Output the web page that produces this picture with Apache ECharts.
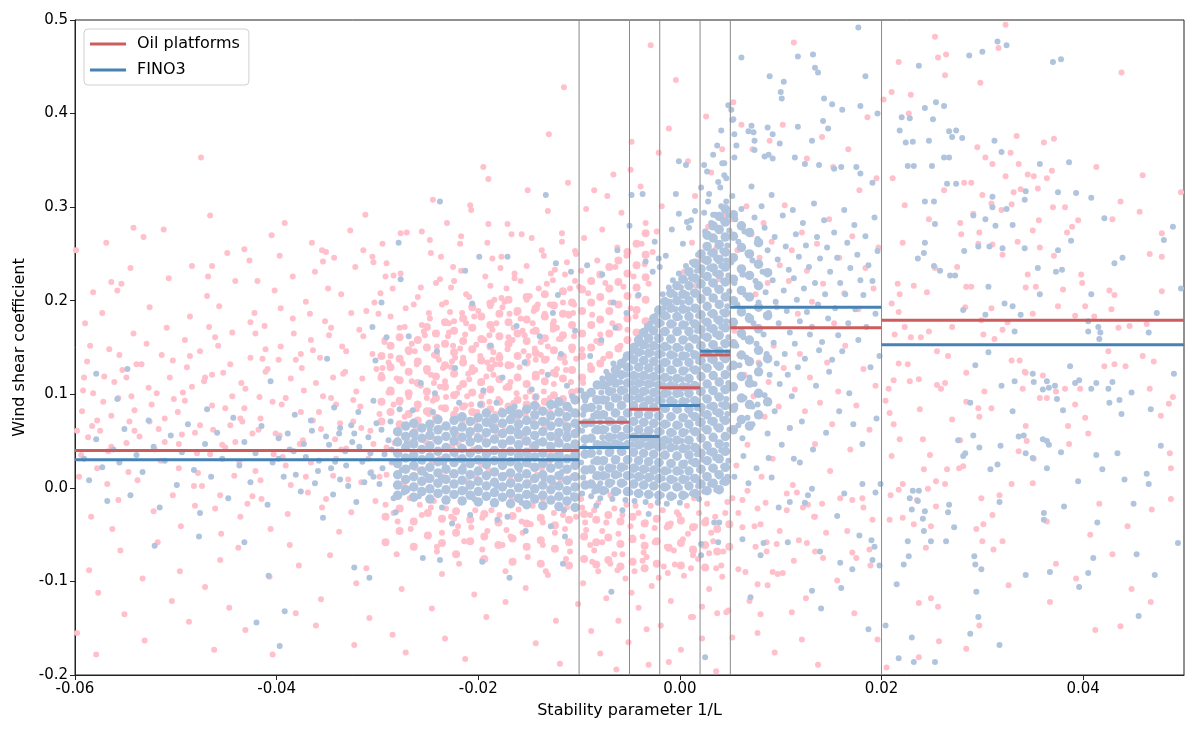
<!DOCTYPE html>
<html>
<head>
<meta charset="utf-8">
<script src="https://cdn.jsdelivr.net/npm/echarts@6/dist/echarts.min.js"></script>
<style>
html, body { margin: 0; padding: 0; background: #fff; }
#chart { width: 1200px; height: 735px; }
</style>
</head>
<body>
<div id="chart"></div>
<script>
// stability bins (1/L) and mean shear coefficient per bin
const binEdges = [-0.06, -0.01, -0.005, -0.002, 0.002, 0.005, 0.02, 0.05];
const oilMeans = [0.040, 0.070, 0.084, 0.107, 0.142, 0.171, 0.179];
const finoMeans = [0.030, 0.043, 0.055, 0.088, 0.146, 0.193, 0.153];
const xTicks = [-0.06, -0.04, -0.02, 0, 0.02, 0.04];
const yTicks = [-0.2, -0.1, 0, 0.1, 0.2, 0.3, 0.4, 0.5];

// Oil platforms samples [1/L, shear]
const oilLeft = [
[-.0593,.082],[-.0588,.135],[-.0596,.012],[-.0584,-.031],[-.0590,.176],[-.0587,.054],[-.0598,-.155],[-.0582,.101],[-.0594,.035],[-.0586,-.088],[-.0591,.118],[-.0583,.066],
[-.0572,.092],[-.0566,.148],[-.0578,.021],[-.0563,-.044],[-.0569,.262],[-.0575,.061],[-.0561,.113],[-.0577,-.112],[-.0568,.004],[-.0573,.187],[-.0564,.077],[-.0579,-.178],[-.0567,.039],
[-.0553,.126],[-.0546,.071],[-.0557,-.013],[-.0542,.165],[-.0549,.048],[-.0555,-.067],[-.0544,.098],[-.0558,.211],[-.0547,.017],[-.0551,-.135],[-.0541,.083],[-.0556,.142],
[-.0532,.268],[-.0527,.107],[-.0536,.055],[-.0522,-.025],[-.0529,.154],[-.0538,.008],[-.0524,.089],[-.0533,-.097],[-.0526,.193],[-.0539,.132],[-.0521,.041],[-.0531,-.163],
[-.0512,.276],[-.0506,.118],[-.0517,.063],[-.0503,-.008],[-.0509,.171],[-.0515,.029],[-.0502,.095],[-.0518,-.058],[-.0507,.224],[-.0514,.142],[-.0504,-.121],[-.0511,.074],
[-.0493,.102],[-.0486,.183],[-.0497,.047],[-.0482,.002],[-.0489,.129],[-.0495,-.041],[-.0484,.237],[-.0498,.081],[-.0487,-.143],[-.0491,.158],[-.0481,.059],[-.0496,-.089],
[-.0475,.353],[-.0466,.291],[-.0472,.114],[-.0463,.062],[-.0478,.016],[-.0469,.205],[-.0461,-.022],[-.0476,.146],[-.0464,.088],[-.0471,-.106],[-.0479,.037],[-.0467,.172],[-.0462,-.173],
[-.0453,.123],[-.0446,.067],[-.0457,.194],[-.0442,.013],[-.0449,.251],[-.0455,-.049],[-.0444,.098],[-.0458,.152],[-.0447,-.128],[-.0451,.043],[-.0441,.221],[-.0456,-.077],
[-.0432,.085],[-.0426,.139],[-.0437,.028],[-.0422,.187],[-.0429,-.017],[-.0435,.112],[-.0424,.058],[-.0438,-.064],[-.0427,.243],[-.0431,-.152],[-.0421,.165],[-.0436,.074],
[-.0412,.173],[-.0405,.270],[-.0417,.097],[-.0403,.036],[-.0409,.127],[-.0415,-.012],[-.0402,.211],[-.0418,.062],[-.0407,-.095],[-.0411,.148],[-.0404,-.178],[-.0416,.008],
[-.0392,.283],[-.0386,.117],[-.0397,.056],[-.0383,.165],[-.0389,-.028],[-.0395,.089],[-.0384,.226],[-.0398,.137],[-.0387,-.061],[-.0391,.024],[-.0381,-.134],[-.0396,.192],
[-.0373,.104],[-.0366,.158],[-.0377,.047],[-.0362,.231],[-.0369,-.005],[-.0375,.128],[-.0364,.072],[-.0378,-.083],[-.0367,.186],[-.0371,.012],[-.0361,-.147],[-.0376,.143],[-.0365,.262],
[-.0352,.178],[-.0346,.096],[-.0357,.139],[-.0342,.052],[-.0349,.213],[-.0355,-.021],[-.0344,.118],[-.0358,.081],[-.0347,-.072],[-.0351,.252],[-.0341,.031],[-.0356,-.119],[-.0348,.163],
[-.0332,.124],[-.0326,.187],[-.0337,.069],[-.0322,.236],[-.0329,.009],[-.0335,.151],[-.0324,.094],[-.0338,-.047],[-.0327,.275],[-.0331,.042],[-.0321,-.102],[-.0336,.207],[-.0323,-.168],
[-.0312,.292],[-.0305,.143],[-.0317,.087],[-.0303,.198],[-.0309,.031],[-.0315,.117],[-.0302,-.014],[-.0318,.169],[-.0307,.061],[-.0311,-.086],[-.0304,.241],[-.0316,.006],[-.0308,-.139],
[-.0293,.156],[-.0286,.102],[-.0297,.208],[-.0283,.048],[-.0289,.134],[-.0295,.261],[-.0284,-.027],[-.0298,.079],[-.0287,.183],[-.0291,.014],[-.0281,-.071],[-.0296,.121],[-.0285,-.157],[-.0292,.226],
[-.0273,.172],[-.0266,.114],[-.0277,.229],[-.0262,.063],[-.0269,.145],[-.0275,.005],[-.0264,.196],[-.0278,.091],[-.0267,-.044],[-.0271,.273],[-.0261,.132],[-.0276,-.108],[-.0265,.037],[-.0272,-.176],
[-.0245,.308],[-.0253,.163],[-.0247,.121],[-.0257,.214],[-.0242,.072],[-.0249,.187],[-.0255,.028],[-.0244,.142],[-.0258,-.018],[-.0247,.251],[-.0251,.096],[-.0241,-.063],[-.0256,.174],[-.0246,-.129],[-.0252,.049],
[-.0232,.198],[-.0226,.135],[-.0237,.247],[-.0222,.084],[-.0229,.166],[-.0235,.012],[-.0224,.221],[-.0238,.108],[-.0227,-.031],[-.0231,.283],[-.0221,.057],[-.0236,-.092],[-.0225,.152],[-.0233,-.161],[-.0228,.188],
[-.0212,.176],[-.0206,.129],[-.0217,.232],[-.0203,.071],[-.0209,.204],[-.0215,.018],[-.0202,.153],[-.0218,.261],[-.0207,-.042],[-.0211,.098],[-.0204,-.114],[-.0216,.187],[-.0205,.041],[-.0213,-.183],[-.0208,.302],
[-.0195,.343],[-.0190,.330],[-.0197,.184],[-.0186,.137],[-.0193,.226],[-.0183,.079],[-.0189,.163],[-.0195,.026],[-.0184,.201],[-.0198,.112],[-.0187,-.024],[-.0191,.262],[-.0181,.058],[-.0196,-.077],[-.0185,.145],[-.0192,-.138],[-.0188,.194],
[-.0172,.213],[-.0166,.158],[-.0177,.247],[-.0162,.101],[-.0169,.186],[-.0175,.039],[-.0164,.229],[-.0178,.132],[-.0167,-.013],[-.0171,.282],[-.0161,.074],[-.0176,-.061],[-.0165,.171],[-.0173,-.122],[-.0168,.009],[-.0174,.199],
[-.0152,.237],[-.0146,.176],[-.0157,.271],[-.0142,.118],[-.0149,.205],[-.0155,.052],[-.0144,.149],[-.0158,.221],[-.0147,-.008],[-.0151,.318],[-.0141,.087],[-.0156,-.048],[-.0145,.189],[-.0153,-.107],[-.0148,.024],[-.0154,.163],[-.0143,-.166],
[-.0130,.378],[-.0132,.218],[-.0126,.169],[-.0137,.254],[-.0122,.127],[-.0129,.196],[-.0135,.063],[-.0124,.233],[-.0138,.142],[-.0127,.004],[-.0131,.296],[-.0121,.094],[-.0136,-.037],[-.0125,.178],[-.0133,-.089],[-.0128,.036],[-.0134,.207],[-.0123,-.142],
[-.0115,.428],[-.0112,.241],[-.0106,.187],[-.0117,.272],[-.0103,.138],[-.0109,.213],[-.0115,.071],[-.0104,.253],[-.0118,.159],[-.0107,.012],[-.0111,.326],[-.0102,.104],[-.0116,-.029],[-.0105,.196],[-.0113,-.076],[-.0108,.043],[-.0114,.228],[-.0101,-.124],[-.0119,-.188],
[-.0545,.235],[-.0542,.278],[-.0564,.220],[-.0554,.218],[-.0582,.209],[-.0599,.254],[-.0464,.237],[-.0468,.226],[-.0419,.221],[-.0432,.255],[-.0397,.248],[-.0355,.254],[-.0354,.242],[-.0343,.246],[-.0314,.254],[-.0305,.247],[-.0291,.240],[-.0284,.227],
[-.0256,.274],[-.0207,.297],[-.0190,.282],[-.0167,.271],[-.0248,.265],[-.0277,.272],[-.0117,.263],[-.0225,.236],[-.0238,.223],[-.0227,.214],[-.0217,.269],[-.0186,.245],[-.0178,.235],[-.0147,.267],[-.0135,.248],[-.0126,.222],[-.0103,.250],[-.0100,.215],
[-.0248,.083],[-.0244,.112],[-.0241,.151],[-.0238,.064],[-.0235,.128],[-.0232,.097],[-.0229,.176],[-.0226,.045],[-.0223,.139],[-.0219,.107],[-.0216,.071],[-.0213,.164],[-.0210,.122],[-.0207,.089],[-.0204,.183],[-.0201,.056],[-.0198,.141],[-.0195,.102],
[-.0192,.119],[-.0189,.074],[-.0186,.169],[-.0183,.132],[-.0180,.095],[-.0177,.203],[-.0174,.061],[-.0171,.148],[-.0168,.113],[-.0165,.084],[-.0162,.187],[-.0159,.129],[-.0156,.168],[-.0153,.097],[-.0150,.141],[-.0147,.072],[-.0144,.118],[-.0141,.196],
[-.0138,.156],[-.0135,.103],[-.0132,.138],[-.0129,.082],[-.0126,.175],[-.0123,.121],[-.0120,.159],[-.0117,.092],[-.0114,.134],[-.0111,.186],[-.0108,.113],[-.0105,.162],[-.0102,.078],[-.0246,.026],[-.0233,.011],[-.0221,.032],[-.0211,.007],[-.0197,.025],
[-.0185,.038],[-.0173,.014],[-.0161,.029],[-.0149,.006],[-.0137,.021],[-.0124,.034],[-.0112,.009],[-.0247,-.021],[-.0236,-.048],[-.0224,-.033],[-.0214,-.057],[-.0203,-.024],[-.0191,-.046],[-.0179,-.029],[-.0168,-.052],[-.0157,-.036],[-.0146,-.019],[-.0136,-.061],
[-.0125,-.027],[-.0114,-.044],[-.0103,-.031],[-.0241,-.068],[-.0219,-.081],[-.0196,-.066],[-.0173,-.089],[-.0151,-.074],[-.0131,-.093],[-.0109,-.068]
];
const oilBand = [
[-.0298,.012],[-.0297,.071],[-.0295,.128],[-.0299,.186],[-.0292,-.018],[-.0291,.043],[-.0289,.102],[-.0293,.158],[-.0286,.027],[-.0284,.089],[-.0287,.141],[-.0285,.213],
[-.0280,-.036],[-.0279,.058],[-.0281,.117],[-.0278,.171],[-.0274,.004],[-.0273,.076],[-.0275,.133],[-.0272,.192],[-.0268,-.011],[-.0267,.049],[-.0269,.097],[-.0266,.154],
[-.0262,.021],[-.0261,.084],[-.0263,.146],[-.0260,.204],[-.0256,-.029],[-.0255,.063],[-.0257,.109],[-.0254,.167],[-.0250,.008],[-.0249,.079],[-.0251,.124],[-.0248,.181],
[-.0244,-.014],[-.0243,.052],[-.0245,.093],[-.0242,.219],[-.0238,.031],[-.0237,.086],[-.0239,.137],[-.0236,.196],[-.0232,-.022],[-.0231,.067],[-.0233,.114],[-.0230,.162],
[-.0226,.015],[-.0225,.074],[-.0227,.129],[-.0224,.178],[-.0220,-.041],[-.0219,.046],[-.0221,.101],[-.0218,.149],[-.0214,.024],[-.0213,.088],[-.0215,.139],[-.0212,.207],
[-.0208,-.008],[-.0207,.061],[-.0209,.116],[-.0206,.172],[-.0202,.011],[-.0201,.081],[-.0203,.126],[-.0200,.189],[-.0196,-.032],[-.0195,.054],[-.0197,.098],[-.0194,.158],
[-.0190,.019],[-.0189,.092],[-.0191,.134],[-.0188,.216],[-.0184,-.016],[-.0183,.066],[-.0185,.121],[-.0182,.176],[-.0178,.029],[-.0177,.083],[-.0179,.142],[-.0176,.193],
[-.0172,-.045],[-.0171,.049],[-.0173,.107],[-.0170,.161],[-.0166,.006],[-.0165,.091],[-.0167,.131],[-.0164,.224],[-.0160,-.023],[-.0159,.059],[-.0161,.119],[-.0158,.181],
[-.0154,.033],[-.0153,.078],[-.0155,.146],[-.0152,.201],[-.0148,-.039],[-.0147,.044],[-.0149,.103],[-.0146,.167],[-.0142,.014],[-.0141,.086],[-.0143,.137],[-.0140,.213],
[-.0136,-.012],[-.0135,.068],[-.0137,.124],[-.0134,.186],[-.0130,.026],[-.0129,.096],[-.0131,.151],[-.0128,.229],[-.0124,-.048],[-.0123,.053],[-.0125,.111],[-.0122,.171],
[-.0118,.009],[-.0117,.081],[-.0119,.139],[-.0116,.198],[-.0112,-.021],[-.0111,.062],[-.0113,.126],[-.0110,.184],[-.0106,.035],[-.0105,.094],[-.0107,.147],[-.0104,.221],
[-.0497,.021],[-.0491,.093],[-.0486,.141],[-.0481,-.019],[-.0476,.067],[-.0471,.118],[-.0466,.036],[-.0461,.161],[-.0456,-.008],[-.0451,.085],[-.0446,.132],[-.0441,.049],
[-.0436,-.031],[-.0431,.106],[-.0426,.177],[-.0421,.018],[-.0416,.074],[-.0411,.124],[-.0406,-.044],[-.0401,.058],[-.0396,.151],[-.0391,.096],[-.0386,.003],[-.0381,.137],
[-.0376,.081],[-.0371,.199],[-.0366,.027],[-.0361,.112],[-.0356,.063],[-.0351,-.012],[-.0346,.171],[-.0341,.089],[-.0336,.041],[-.0331,.146],[-.0326,-.026],[-.0321,.103],
[-.0316,.064],[-.0311,.189],[-.0306,.017],[-.0301,.127],[-.0494,.057],[-.0484,.108],[-.0474,.002],[-.0464,.121],[-.0454,.046],[-.0444,.166],[-.0434,.071],[-.0424,-.009],
[-.0414,.138],[-.0404,.092],[-.0394,.033],[-.0384,.181],[-.0374,.051],[-.0364,.147],[-.0354,.098],[-.0344,.013],[-.0334,.122],[-.0324,.071],[-.0314,.162],[-.0304,.047],
[-.0598,.061],[-.0592,.104],[-.0585,.152],[-.0578,.072],[-.0571,.119],[-.0564,.044],[-.0557,.096],[-.0549,.118],[-.0541,.061],[-.0534,.132],[-.0526,.071],[-.0519,.101],
[-.0511,.049],[-.0503,.136]
];
const oilCentre = [
[-.0029,.473],[-.0004,.436],[-.0011,.384],[-.0048,.370],[-.0049,.340],[-.0066,.335],[-.0072,.312],[-.0021,.358],[-.0085,.318],[-.0093,.298],[-.0039,.322],[.0008,.349],[.0031,.337],[.0042,.362],[.0026,.397],[-.0058,.294],[-.0077,.276],[-.0018,.301],[-.0095,.267],[-.0062,.257],[-.0034,.283],[.0015,.312],
[-.0098,.232],[-.0091,.208],[-.0087,.185],[-.0082,.243],[-.0079,.164],[-.0074,.219],[-.0069,.198],[-.0064,.236],[-.0061,.172],[-.0056,.215],[-.0053,.248],[-.0049,.192],[-.0046,.226],[-.0042,.205],[-.0038,.261],[-.0035,.239],[-.0031,.218],[-.0027,.252],[-.0023,.274],
[-.0097,.148],[-.0089,.131],[-.0083,.157],[-.0076,.138],[-.0071,.121],[-.0067,.176],[-.0059,.152],[-.0052,.169],[-.0044,.183],[-.0096,.112],[-.0084,.096],
[.0004,.231],[.0012,.262],[.0021,.244],[.0028,.279],[.0036,.256],[.0044,.291],[.0048,.238],[-.0008,.207],[.0016,.216],[.0039,.223],
[-.0098,-.012],[-.0094,-.037],[-.0089,-.061],[-.0085,-.024],[-.0081,-.089],[-.0077,-.046],[-.0073,-.118],[-.0069,-.008],[-.0065,-.071],[-.0061,-.142],[-.0057,-.029],[-.0054,-.097],[-.0051,-.165],[-.0047,-.053],[-.0044,-.019],[-.0041,-.128],[-.0037,-.078],
[-.0034,-.037],[-.0031,-.189],[-.0028,-.105],[-.0025,-.058],[-.0022,-.015],[-.0019,-.147],[-.0016,-.084],[-.0013,-.042],[-.0009,-.121],[-.0006,-.067],[-.0003,-.026],[.0001,-.173],[.0004,-.094],[.0008,-.049],[.0011,-.138],[.0014,-.011],[.0018,-.076],
[.0022,-.161],[.0026,-.034],[.0029,-.108],[.0033,-.057],[.0036,-.196],[.0041,-.083],[.0045,-.027],[.0048,-.131],[-.0096,-.102],[-.0088,-.153],[-.0079,-.177],[-.0063,-.194],[-.0048,-.112],[-.0033,-.151],[-.0011,-.186],
[-.0087,-.079],[-.0062,-.088],[-.0036,-.069],[-.0012,-.091],[.0013,-.072],[.0036,-.086],[.0014,-.067],[.0029,-.070],[.0042,-.095],[.0022,-.127],[.0037,-.134],[.0046,-.133],[.0013,-.138],
[-.0097,-.021],[-.0093,-.045],[-.0089,-.029],[-.0085,-.067],[-.0081,-.016],[-.0077,-.058],[-.0073,-.037],[-.0069,-.081],[-.0065,-.022],[-.0061,-.049],[-.0057,-.071],[-.0053,-.018],
[-.0049,-.041],[-.0045,-.089],[-.0041,-.027],[-.0037,-.052],[-.0033,-.074],[-.0029,-.019],[-.0025,-.043],[-.0021,-.096],[-.0017,-.024],[-.0013,-.063],[-.0009,-.038],[-.0005,-.082],
[-.0001,-.029],[.0003,-.055],[.0007,-.019],[.0011,-.086],[.0015,-.041],[.0019,-.027],[.0023,-.062],[.0027,-.017],[.0031,-.048],[.0035,-.031],[.0043,-.068],[.0047,-.015]
];
// thick pink patches, one row per 1/L column: [1/L, [shear values]]
const oilDenseCols = [
[-.0296,[.071,.092,.118,.141]],[-.0287,[.081,.104,.129,.152]],[-.0278,[.068,.093,.115,.138,.161]],[-.0269,[.079,.101,.124,.147]],
[-.0260,[.072,.089,.112,.135,.158]],[-.0251,[.082,.103,.127,.150,.172]],[-.0242,[.075,.096,.119,.142,.165]],[-.0233,[.085,.108,.131,.154,.177]],
[-.0224,[.078,.099,.122,.145,.168]],[-.0215,[.087,.111,.134,.157,.181]],[-.0206,[.081,.102,.125,.148,.171,.193]],[-.0197,[.089,.113,.136,.159,.183]],
[-.0188,[.084,.105,.128,.151,.174,.197]],[-.0179,[.092,.116,.139,.162,.186]],[-.0170,[.087,.108,.131,.154,.177,.201]],[-.0161,[.094,.118,.141,.165,.189]],
[-.0152,[.089,.111,.134,.157,.180,.204]],[-.0143,[.097,.121,.144,.168,.192]],[-.0134,[.092,.114,.137,.160,.183,.207]],[-.0125,[.099,.123,.147,.171,.195]],
[-.0116,[.095,.117,.140,.163,.186,.210]],[-.0107,[.102,.126,.150,.174,.198]],
[-.0292,[-.031,-.058]],[-.0278,[-.022,-.046]],[-.0264,[-.036,-.063]],[-.0250,[-.027,-.051]],[-.0236,[-.033,-.059]],[-.0222,[-.025,-.048,-.071]],
[-.0208,[-.034,-.057]],[-.0194,[-.028,-.052,-.076]],[-.0180,[-.037,-.061]],[-.0166,[-.030,-.054,-.079]],[-.0152,[-.038,-.063]],[-.0138,[-.032,-.056,-.081]],
[-.0124,[-.040,-.065]],[-.0110,[-.034,-.058,-.083]],
[-.0097,[.118,.141,.165,.189,.212]],[-.0088,[.127,.150,.174,.198,.221]],[-.0079,[.133,.156,.180,.204,.228]],[-.0070,[.142,.165,.189,.213,.236]],
[-.0061,[.149,.172,.196,.220,.243]],[-.0052,[.158,.181,.205,.229,.252]],[-.0043,[.166,.190,.214,.238,.261]],[-.0034,[.178,.201,.225,.249,.272]],
[-.0095,[-.028,-.052,-.076]],[-.0083,[-.034,-.058,-.082]],[-.0071,[-.029,-.053,-.077]],[-.0059,[-.036,-.060,-.084]],[-.0047,[-.031,-.055,-.079]],
[-.0035,[-.038,-.062,-.086]],[-.0023,[-.033,-.057,-.081]],[-.0011,[-.040,-.064]],[.0001,[-.035,-.059,-.083]],[.0013,[-.042,-.066]],
[.0025,[-.037,-.061,-.085]],[.0037,[-.044,-.068]],[.0049,[-.039,-.063]]
];
const oilRight = [
[.0053,.412],[.0061,.388],[.0072,.362],[.0089,.371],[.0102,.388],[.0113,.476],[.0126,.352],[.0141,.375],[.0152,.343],[.0167,.362],[.0178,.318],[.0186,.396],[.0195,.331],
[.0052,.287],[.0057,.254],[.0063,.228],[.0066,.301],[.0071,.271],[.0075,.207],[.0079,.246],[.0083,.283],[.0087,.219],[.0091,.263],[.0096,.193],[.0099,.238],[.0104,.302],[.0108,.221],[.0111,.254],[.0117,.186],
[.0121,.273],[.0126,.232],[.0131,.199],[.0136,.261],[.0142,.218],[.0148,.287],[.0153,.176],[.0158,.246],[.0163,.208],[.0171,.269],[.0177,.191],[.0184,.235],[.0192,.213],[.0197,.257],
[.0054,.168],[.0059,.142],[.0064,.121],[.0068,.157],[.0073,.098],[.0078,.134],[.0084,.076],[.0088,.113],[.0093,.152],[.0098,.087],[.0103,.128],[.0109,.064],[.0114,.105],[.0119,.143],
[.0124,.082],[.0129,.118],[.0134,.047],[.0139,.091],[.0146,.134],[.0151,.068],[.0157,.103],[.0164,.152],[.0169,.041],[.0175,.088],[.0182,.127],[.0188,.062],[.0194,.109],
[.0056,.024],[.0062,-.013],[.0067,.046],[.0074,-.041],[.0081,.012],[.0086,-.068],[.0092,.031],[.0097,-.092],[.0106,-.024],[.0112,.003],[.0118,-.056],[.0125,-.118],[.0133,-.031],[.0142,-.075],
[.0149,.018],[.0156,-.099],[.0166,-.046],[.0173,-.134],[.0181,-.011],[.0189,-.083],[.0196,-.162],[.0058,-.087],[.0069,-.121],[.0077,-.155],[.0094,-.176],[.0137,-.189],
[.0052,-.160],[.0080,-.135],[.0121,-.162],[.0111,-.133],[.0087,-.104],[.0077,-.103],[.0092,-.090],[.0102,-.091],[.0065,-.090],[.0075,-.063],[.0086,-.058],[.0096,-.060],[.0126,-.059],[.0134,-.068],
[.0113,-.078],[.0171,-.069],[.0175,-.075],[.0188,-.066],[.0191,-.034],[.0182,-.021],[.0171,-.013],[.0159,-.011],[.0145,-.048],[.0134,-.031],[.0127,-.018],[.0141,-.017],[.0122,-.021],[.0099,-.046],
[.0080,-.039],[.0062,-.042],[.0058,-.027],[.0077,-.022],[.0106,-.006],[.0116,-.005],[.0085,-.016],[.0067,-.003],[.0052,-.011]
];
const oilFar = [
[.0323,.495],[.0253,.482],[.0217,.455],[.0264,.463],[.0256,.460],[.0263,.441],[.0298,.433],[.0316,.470],[.0438,.444],[.0229,.420],[.0210,.423],[.0202,.415],[.0227,.400],[.0334,.376],
[.0361,.369],[.0371,.373],[.0413,.343],[.0459,.334],[.0497,.316],[.0437,.306],[.0456,.295],[.0478,.272],[.0466,.250],[.0478,.247],[.0382,.300],[.0370,.300],[.0364,.331],[.0369,.339],
[.0351,.333],[.0336,.346],[.0328,.358],[.0345,.335],[.0310,.346],[.0303,.353],[.0295,.364],[.0323,.333],[.0331,.316],[.0329,.303],[.0338,.319],[.0355,.320],[.0356,.286],[.0384,.273],
[.0389,.279],[.0395,.286],[.0429,.287],[.0309,.304],[.0319,.297],[.0291,.293],[.0300,.313],[.0289,.326],[.0282,.326],[.0278,.283],[.0297,.273],[.0296,.261],[.0310,.260],[.0320,.249],
[.0335,.263],[.0350,.275],[.0357,.257],[.0345,.228],[.0343,.214],[.0353,.215],[.0371,.248],[.0398,.228],[.0399,.219],[.0402,.194],[.0380,.212],[.0426,.211],[.0431,.206],[.0428,.191],
[.0435,.171],[.0446,.173],[.0463,.175],[.0478,.210],[.0392,.184],[.0411,.183],[.0350,.186],[.0309,.192],[.0299,.179],[.0320,.169],[.0325,.177],[.0312,.159],[.0284,.215],[.0289,.215],
[.0275,.236],[.0253,.235],[.0245,.209],[.0232,.216],[.0216,.218],[.0218,.207],[.0210,.197],[.0217,.188],[.0213,.164],[.0223,.172],[.0229,.161],[.0239,.161],[.0247,.167],[.0270,.172],
[.0283,.193],[.0301,.164],[.0375,.194],[.0211,.331],[.0223,.302],[.0247,.287],[.0262,.318],[.0279,.271],[.0221,.262],
[.0329,.136],[.0337,.136],[.0343,.123],[.0360,.120],[.0357,.096],[.0364,.096],[.0373,.103],[.0382,.106],[.0392,.089],[.0397,.106],[.0402,.075],[.0405,.058],[.0386,.047],[.0385,.066],
[.0421,.130],[.0425,.146],[.0431,.132],[.0442,.130],[.0459,.141],[.0470,.135],[.0466,.106],[.0477,.077],[.0485,.090],[.0489,.097],[.0486,.037],[.0487,.021],[.0487,-.012],[.0468,-.023],
[.0444,-.041],[.0407,-.050],[.0416,-.017],[.0393,-.097],[.0373,-.081],[.0437,-.148],[.0351,.031],[.0364,-.036],[.0350,.005],[.0329,.004],[.0336,.039],[.0344,.050],[.0343,.066],[.0340,.106],
[.0342,.124],[.0317,-.008],[.0310,-.029],[.0300,-.057],[.0299,-.011],[.0294,-.044],[.0301,-.039],[.0311,-.066],[.0320,-.057],[.0281,.023],[.0296,.085],[.0297,.076],[.0309,.085],[.0302,.103],
[.0284,.123],[.0284,.092],[.0270,.073],[.0278,.051],[.0265,.020],[.0263,.004],[.0254,.007],[.0254,-.020],[.0249,-.041],[.0246,-.001],[.0244,-.064],[.0237,-.123],[.0249,-.118],[.0256,-.127],
[.0257,-.164],[.0237,-.181],[.0205,-.192],[.0208,-.034],[.0221,-.032],[.0232,-.039],[.0235,-.013],[.0242,.020],[.0248,.035],[.0241,.052],[.0238,.084],[.0237,.116],[.0228,.114],[.0217,.133],
[.0218,.052],[.0221,.004],[.0217,-.002],[.0209,-.008],[.0210,.034],[.0212,.068],[.0208,.080],[.0204,.093],[.0207,.106],[.0212,.115],[.0226,.132],[.0255,.146],[.0266,.141],[.0263,.112],
[.0255,.110],[.0259,.106],[.0277,.021],[.0367,-.122],[.0429,-.071],[.0326,-.104],[.0297,-.147],[.0412,-.152],[.0448,-.108],[.0467,-.122],[.0284,-.172]
];

// FINO3 samples [1/L, shear]
const finoLeft = [
[-.0238,.306],[-.0279,.262],[-.0277,.223],[-.0213,.232],[-.0199,.247],[-.0171,.247],[-.0123,.240],[-.0108,.231],[-.0121,.206],[-.0296,.198],[-.0206,.197],[-.0269,.162],[-.0305,.172],
[-.0291,.161],[-.0350,.138],[-.0302,.136],[-.0548,.127],[-.0579,.122],[-.0558,.095],[-.0469,.084],[-.0406,.114],[-.0133,.313],[-.0408,-.094],[-.0521,-.062],[-.0432,-.058],[-.0477,-.052],
[-.0308,-.096],[-.0255,-.075],[-.0238,-.077],[-.0196,-.079],[-.0116,-.081],[-.0169,-.096],[-.0420,-.144],[-.0397,-.169],[-.0392,-.132],[-.0323,-.085],[-.0068,-.111],
[-.0188,.152],[-.0176,.118],[-.0162,.173],[-.0154,.134],[-.0147,.105],[-.0139,.162],[-.0131,.121],[-.0126,.187],[-.0118,.143],[-.0112,.109],[-.0104,.168],[-.0223,.128],[-.0241,.146],
[-.0257,.112],[-.0182,.091],[-.0164,.087],[-.0143,.076],
[-.0591,.031],[-.0586,.008],[-.0579,.052],[-.0573,.022],[-.0568,-.014],[-.0562,.041],[-.0556,.027],[-.0551,.063],[-.0545,-.008],[-.0539,.035],[-.0533,.017],[-.0527,.072],[-.0522,.044],
[-.0516,-.021],[-.0511,.029],[-.0505,.056],[-.0499,.003],[-.0494,.038],[-.0488,.068],[-.0482,.019],[-.0476,-.027],[-.0471,.047],[-.0465,.012],[-.0459,.059],[-.0454,.031],[-.0448,-.011],
[-.0443,.075],[-.0437,.024],[-.0432,.049],[-.0426,.006],[-.0421,.037],[-.0415,.066],[-.0409,-.018],[-.0404,.027],[-.0398,.053],[-.0393,.012],[-.0387,.041],[-.0382,.078],[-.0376,-.004],
[-.0371,.033],[-.0365,.061],[-.0359,.018],[-.0354,-.032],[-.0348,.046],[-.0343,.086],[-.0337,.009],[-.0332,.039],[-.0326,.067],[-.0321,-.015],[-.0315,.028],[-.0309,.054],[-.0304,.093],
[-.0298,.004],[-.0293,.036],[-.0287,.071],[-.0282,-.026],[-.0276,.019],[-.0271,.048],[-.0265,.083],[-.0259,-.009],[-.0254,.031],[-.0248,.062],[-.0243,.101],[-.0237,.011],[-.0232,.044],
[-.0226,-.038],[-.0221,.074],[-.0215,.023],[-.0209,.056],[-.0204,-.012],[-.0198,.089],[-.0193,.034],[-.0187,.067],[-.0182,.002],[-.0176,.047],[-.0171,-.031],[-.0165,.078],[-.0159,.019],
[-.0154,.058],[-.0148,-.007],[-.0143,.097],[-.0137,.038],[-.0132,.071],[-.0126,.006],[-.0121,.052],[-.0115,-.024],[-.0109,.084],[-.0104,.027],[-.0101,.063],
[-.0346,.021],[-.0338,.058],[-.0329,.002],[-.0318,.044],[-.0307,.016],[-.0296,.062],[-.0285,.028],[-.0274,-.005],[-.0263,.053],[-.0252,.014],[-.0245,.081],[-.0234,.026],[-.0224,.057],
[-.0213,-.002],[-.0202,.041],[-.0192,.014],[-.0185,.076],[-.0174,.025],[-.0167,.051],[-.0157,-.016],[-.0151,.032],[-.0145,.069],[-.0135,.009],[-.0129,.046],[-.0123,.088],[-.0117,.017],
[-.0112,.059],[-.0106,-.008],[-.0102,.042],[-.0219,.091],[-.0195,.104],[-.0161,.063],[-.0141,.049],[-.0119,.071],[-.0107,.098],[-.0128,-.041],[-.0153,-.046],[-.0181,-.034],[-.0208,-.029],
[-.0236,-.021],[-.0114,-.052],
[-.0398,.031],[-.0389,.058],[-.0381,.014],[-.0373,.047],[-.0366,.072],[-.0358,.029],[-.0351,.055],[-.0344,-.007],[-.0337,.064],[-.0331,.024],[-.0325,.049],[-.0319,.081],[-.0313,.006],
[-.0307,.037],[-.0301,.069],[-.0295,.021],[-.0289,.051],[-.0284,-.011],[-.0278,.084],[-.0383,.039],[-.0362,.005],[-.0342,.028],[-.0323,.058],[-.0304,.012],[-.0286,.041]
];
const finoCentre = [
[-.0097,-.006],[-.0096,.011],[-.0098,.027],[-.0095,.044],[-.0097,.061],[-.0096,.078],[-.0094,.093],[-.0098,.104],
[-.0091,.003],[-.0092,.019],[-.0090,.036],[-.0091,.052],[-.0089,.069],[-.0092,.085],[-.0090,.101],[-.0088,-.009],
[-.0085,-.004],[-.0084,.012],[-.0086,.028],[-.0083,.045],[-.0085,.061],[-.0086,.077],[-.0084,.094],[-.0083,.109],
[-.0079,.005],[-.0078,.021],[-.0080,.038],[-.0077,.054],[-.0079,.070],[-.0080,.086],[-.0078,.102],[-.0077,.117],[-.0079,-.011],
[-.0073,-.003],[-.0072,.013],[-.0074,.030],[-.0071,.046],[-.0073,.063],[-.0074,.079],[-.0072,.095],[-.0071,.111],[-.0073,.124],
[-.0067,.006],[-.0066,.022],[-.0068,.039],[-.0065,.055],[-.0067,.071],[-.0068,.088],[-.0066,.104],[-.0065,.119],[-.0067,-.012],[-.0066,.133],
[-.0061,-.004],[-.0060,.014],[-.0062,.031],[-.0059,.047],[-.0061,.064],[-.0062,.080],[-.0060,.096],[-.0059,.113],[-.0061,.129],
[-.0055,.005],[-.0054,.022],[-.0056,.038],[-.0053,.055],[-.0055,.072],[-.0056,.088],[-.0054,.104],[-.0053,.121],[-.0055,.137],[-.0054,-.013],
[-.0049,-.005],[-.0048,.013],[-.0050,.030],[-.0047,.046],[-.0049,.063],[-.0050,.079],[-.0048,.096],[-.0047,.112],[-.0049,.128],[-.0048,.145],
[-.0044,.004],[-.0043,.021],[-.0045,.038],[-.0042,.054],[-.0044,.071],[-.0045,.087],[-.0043,.104],[-.0042,.120],[-.0044,.137],[-.0043,.153],[-.0045,-.014],
[-.0039,-.006],[-.0038,.012],[-.0040,.029],[-.0037,.046],[-.0039,.062],[-.0040,.079],[-.0038,.095],[-.0037,.112],[-.0039,.128],[-.0038,.145],[-.0040,.161],
[-.0034,.003],[-.0033,.020],[-.0035,.037],[-.0032,.053],[-.0034,.070],[-.0035,.086],[-.0033,.103],[-.0032,.119],[-.0034,.136],[-.0033,.152],[-.0035,.168],[-.0034,-.015],
[-.0029,-.007],[-.0028,.011],[-.0030,.028],[-.0027,.045],[-.0029,.061],[-.0030,.078],[-.0028,.094],[-.0027,.111],[-.0029,.127],[-.0028,.144],[-.0030,.160],[-.0029,.176],
[-.0024,.002],[-.0023,.019],[-.0025,.036],[-.0022,.052],[-.0024,.069],[-.0025,.085],[-.0023,.102],[-.0022,.118],[-.0024,.135],[-.0023,.151],[-.0025,.168],[-.0024,.184],[-.0022,-.016],
[-.0018,-.008],[-.0017,.010],[-.0019,.027],[-.0016,.044],[-.0018,.060],[-.0019,.077],[-.0017,.093],[-.0016,.110],[-.0018,.126],[-.0017,.143],[-.0019,.159],[-.0018,.176],[-.0016,.192],[-.0017,.207],
[-.0012,.001],[-.0011,.018],[-.0013,.035],[-.0010,.051],[-.0012,.068],[-.0013,.084],[-.0011,.101],[-.0010,.117],[-.0012,.134],[-.0011,.150],[-.0013,.167],[-.0012,.183],[-.0010,.199],[-.0011,.214],[-.0013,-.017],
[-.0006,-.009],[-.0005,.009],[-.0007,.026],[-.0004,.043],[-.0006,.059],[-.0007,.076],[-.0005,.092],[-.0004,.109],[-.0006,.125],[-.0005,.142],[-.0007,.158],[-.0006,.175],[-.0004,.191],[-.0005,.207],[-.0007,.222],
[.0000,.000],[.0001,.017],[-.0001,.034],[.0002,.050],[.0000,.067],[-.0001,.083],[.0001,.100],[.0002,.116],[.0000,.133],[.0001,.149],[-.0001,.166],[.0000,.182],[.0002,.198],[.0001,.214],[-.0001,.229],[.0000,-.016],
[.0006,-.008],[.0007,.010],[.0005,.027],[.0008,.043],[.0006,.060],[.0005,.076],[.0007,.093],[.0008,.109],[.0006,.126],[.0007,.142],[.0005,.159],[.0006,.175],[.0008,.191],[.0007,.207],[.0005,.222],[.0006,.237],
[.0012,-.006],[.0013,.011],[.0011,.028],[.0014,.045],[.0012,.061],[.0011,.078],[.0013,.094],[.0014,.111],[.0012,.127],[.0013,.144],[.0011,.160],[.0012,.177],[.0014,.193],[.0013,.209],[.0011,.224],[.0012,.241],
[.0018,.002],[.0019,.019],[.0017,.036],[.0020,.052],[.0018,.069],[.0017,.085],[.0019,.102],[.0020,.118],[.0018,.135],[.0019,.151],[.0017,.168],[.0018,.184],[.0020,.200],[.0019,.216],[.0017,.232],[.0018,.249],[.0019,-.012],
[.0024,-.004],[.0025,.013],[.0023,.030],[.0026,.046],[.0024,.063],[.0023,.079],[.0025,.096],[.0026,.112],[.0024,.129],[.0025,.145],[.0023,.162],[.0024,.178],[.0026,.194],[.0025,.211],[.0023,.227],[.0024,.243],[.0026,.259],[.0025,.274],
[.0030,.004],[.0031,.021],[.0029,.038],[.0032,.054],[.0030,.071],[.0029,.087],[.0031,.104],[.0032,.120],[.0030,.137],[.0031,.153],[.0029,.170],[.0030,.186],[.0032,.202],[.0031,.219],[.0029,.235],[.0030,.251],[.0032,.267],[.0031,.283],
[.0036,-.002],[.0037,.015],[.0035,.032],[.0038,.048],[.0036,.065],[.0035,.081],[.0037,.098],[.0038,.114],[.0036,.131],[.0037,.147],[.0035,.164],[.0036,.180],[.0038,.196],[.0037,.213],[.0035,.229],[.0036,.245],[.0038,.261],[.0037,.277],[.0035,.292],
[.0042,.006],[.0043,.023],[.0041,.040],[.0044,.056],[.0042,.073],[.0041,.089],[.0043,.106],[.0044,.122],[.0042,.139],[.0043,.155],[.0041,.172],[.0042,.188],[.0044,.204],[.0043,.221],[.0041,.237],[.0042,.253],[.0044,.269],[.0043,.285],[.0041,.301],
[.0047,.012],[.0048,.029],[.0046,.046],[.0049,.062],[.0047,.079],[.0046,.095],[.0048,.112],[.0049,.128],[.0047,.145],[.0048,.161],[.0046,.178],[.0047,.194],[.0049,.210],[.0048,.227],[.0046,.243],[.0047,.259],[.0049,.275],[.0048,.291],[.0046,.306],
[.0048,.409],[.0041,.382],[.0033,.356],[.0027,.338],[.0021,.321],[.0044,.347],[.0038,.327],[.0015,.296],[.0009,.278],[.0046,.331],[.0028,.306],[-.0014,.248],[-.0027,.231],[-.0041,.206],
[-.0053,.187],[-.0064,.171],[-.0078,.158],[-.0089,.141],[-.0066,.198],[-.0034,.242],[.0003,.261],[-.0008,.276],
[-.0001,.349],[.0006,.345],[-.0048,.313],[-.0037,.314],[-.0050,.280],[-.0062,.254],[-.0025,.263],[-.0004,.314],[-.0021,.245],[-.0020,.236],[.0024,.345],[.0037,.366],[.0042,.347],[.0044,.334],
[.0040,.321],[.0029,.314],[.0024,.294],[.0033,.292],[-.0001,.293],[.0007,.284],[.0011,.286],[-.0077,.228],[-.0092,.238],
[.0038,-.058],[.0021,-.060],[.0021,-.072],[.0025,-.181],[.0034,-.037],[.0039,-.037],[-.0057,-.024],[-.0031,-.028],[-.0083,-.019]
];
// thick blue patches (left band, core, just right of 0.005): [1/L, [shear values]]
const finoDenseCols = [
[-.0280,[-.008,.003,.014,.026,.037,.049,.060]],[-.0272,[-.002,.009,.020,.032,.043,.055,.066]],[-.0264,[-.010,.001,.012,.024,.035,.047,.058,.069]],
[-.0256,[-.004,.007,.018,.030,.041,.053,.064]],[-.0248,[-.012,-.001,.010,.022,.033,.045,.056,.068]],[-.0240,[-.006,.005,.016,.028,.039,.051,.062,.073]],
[-.0232,[-.013,-.002,.009,.020,.032,.043,.055,.066]],[-.0224,[-.007,.004,.015,.027,.038,.050,.061,.072]],[-.0216,[-.014,-.003,.008,.019,.031,.042,.054,.065,.076]],
[-.0208,[-.008,.003,.014,.026,.037,.049,.060,.071]],[-.0200,[-.015,-.004,.007,.018,.030,.041,.053,.064,.075]],[-.0192,[-.009,.002,.013,.025,.036,.048,.059,.070,.080]],
[-.0184,[-.016,-.005,.006,.017,.029,.040,.052,.063,.074]],[-.0176,[-.010,.001,.012,.024,.035,.047,.058,.069,.080]],[-.0168,[-.017,-.006,.005,.016,.028,.039,.051,.062,.073,.083]],
[-.0160,[-.011,.000,.011,.023,.034,.046,.057,.068,.079]],[-.0152,[-.018,-.007,.004,.015,.027,.038,.050,.061,.072,.084]],[-.0144,[-.012,-.001,.010,.022,.033,.045,.056,.067,.078,.088]],
[-.0136,[-.019,-.008,.003,.014,.026,.037,.049,.060,.071,.082]],[-.0128,[-.013,-.002,.009,.021,.032,.044,.055,.066,.077,.089]],[-.0120,[-.020,-.009,.002,.013,.025,.036,.048,.059,.070,.081,.092]],
[-.0112,[-.014,-.003,.008,.020,.031,.043,.054,.065,.076,.087]],[-.0104,[-.021,-.010,.001,.012,.024,.035,.047,.058,.069,.080,.094]],
[-.0094,[.003,.019,.036,.052,.069,.085,.098]],[-.0088,[.004,.020,.037,.053,.070,.086,.102]],[-.0082,[-.001,.013,.029,.046,.062,.078,.094,.110]],
[-.0076,[-.003,.013,.029,.046,.062,.078,.094,.110]],[-.0070,[.005,.021,.038,.054,.071,.087,.103,.118]],[-.0064,[-.004,.014,.030,.047,.063,.080,.096,.112,.126]],
[-.0058,[.005,.022,.039,.055,.072,.088,.104,.121,.133]],[-.0052,[-.004,.013,.030,.046,.063,.080,.096,.112,.129,.141]],[-.0046,[.004,.021,.038,.054,.071,.088,.104,.120,.137,.150]],
[-.0041,[-.006,.012,.029,.046,.062,.079,.096,.112,.129,.145,.158]],[-.0036,[.003,.020,.037,.054,.070,.087,.103,.120,.136,.153,.166]],
[-.0031,[-.007,.011,.028,.045,.061,.078,.094,.111,.128,.144,.160,.172]],[-.0026,[.002,.019,.036,.052,.069,.086,.102,.119,.135,.152,.168,.181]],
[-.0021,[-.008,.010,.027,.044,.060,.077,.094,.110,.127,.143,.160,.176,.190]],[-.0015,[.001,.018,.035,.051,.068,.085,.101,.118,.134,.151,.167,.184,.199]],
[-.0009,[-.009,.009,.026,.043,.059,.076,.093,.109,.126,.142,.159,.175,.192,.208]],[-.0003,[.001,.018,.034,.051,.067,.084,.101,.117,.134,.150,.167,.183,.200,.216]],
[.0003,[-.008,.009,.025,.042,.059,.075,.092,.108,.125,.141,.158,.174,.191,.207,.223]],[.0009,[.002,.018,.035,.051,.068,.084,.101,.117,.134,.150,.167,.183,.200,.216,.231]],
[.0015,[-.006,.010,.027,.043,.060,.076,.093,.109,.126,.142,.159,.175,.192,.208,.224,.240]],[.0021,[.004,.020,.037,.053,.070,.086,.103,.119,.136,.152,.169,.185,.202,.218,.234,.250]],
[.0027,[-.003,.012,.029,.045,.062,.078,.095,.111,.128,.144,.161,.177,.194,.210,.226,.243,.258,.270]],
[.0033,[.005,.021,.038,.054,.071,.087,.104,.120,.137,.153,.170,.186,.203,.219,.235,.251,.267,.280]],
[.0039,[-.002,.014,.031,.047,.064,.080,.097,.113,.130,.146,.163,.179,.196,.212,.228,.244,.260,.276,.290]],
[.0045,[.007,.022,.039,.055,.072,.088,.105,.121,.138,.154,.171,.187,.204,.220,.236,.252,.268,.284,.298]],
[.0053,[.062,.085,.108,.131,.154,.177,.200,.223,.246,.269,.292]],[.0061,[.073,.096,.119,.142,.165,.188,.211,.234,.257,.280]],
[.0069,[.066,.089,.112,.135,.158,.181,.204,.227,.250,.273]],[.0078,[.078,.101,.124,.147,.170,.193,.216,.239,.262]],[.0087,[.092,.138,.184,.230]]
];
const finoRight = [
[.0061,.460],[.0177,.492],[.0132,.463],[.0117,.461],[.0134,.449],[.0137,.444],[.0089,.440],[.0103,.434],[.0100,.423],[.0101,.416],[.0143,.416],[.0151,.410],[.0184,.440],[.0179,.408],
[.0071,.387],[.0073,.380],[.0068,.381],[.0074,.371],[.0074,.361],[.0087,.385],[.0092,.378],[.0099,.368],[.0117,.386],[.0131,.371],[.0142,.392],[.0147,.384],[.0161,.404],[.0160,.343],
[.0175,.343],[.0179,.336],[.0191,.326],[.0196,.400],[.0051,.404],[.0053,.394],[.0052,.393],[.0054,.378],[.0056,.366],[.0054,.353],[.0084,.354],[.0088,.356],[.0092,.352],[.0114,.353],
[.0124,.346],[.0138,.345],[.0153,.341],
[.0052,.312],[.0055,.287],[.0058,.263],[.0051,.241],[.0054,.219],[.0057,.196],[.0053,.174],[.0056,.152],[.0059,.131],[.0052,.109],[.0055,.088],[.0058,.067],[.0061,.298],[.0064,.274],
[.0067,.251],[.0062,.228],[.0065,.206],[.0068,.184],[.0063,.161],[.0066,.139],[.0069,.118],[.0064,.096],[.0067,.075],[.0062,.053],[.0071,.322],[.0074,.289],[.0077,.266],[.0072,.243],
[.0075,.221],[.0078,.198],[.0073,.176],[.0076,.154],[.0079,.132],[.0074,.111],[.0077,.089],[.0072,.068],[.0081,.301],[.0084,.278],[.0087,.254],[.0082,.231],[.0085,.209],[.0088,.187],
[.0083,.164],[.0086,.143],[.0089,.121],[.0084,.099],[.0087,.058],[.0091,.313],[.0094,.268],[.0097,.244],[.0092,.222],[.0095,.199],[.0098,.176],[.0093,.155],[.0096,.133],[.0099,.111],
[.0094,.082],[.0102,.291],[.0105,.258],[.0108,.233],[.0103,.211],[.0106,.189],[.0109,.166],[.0104,.143],[.0107,.121],[.0112,.297],[.0115,.271],[.0118,.247],[.0113,.224],[.0116,.201],
[.0119,.178],[.0114,.154],[.0117,.129],[.0111,.098],[.0122,.283],[.0125,.259],[.0128,.236],[.0123,.213],[.0126,.188],[.0129,.164],[.0124,.138],[.0121,.071],[.0133,.304],[.0136,.268],
[.0139,.245],[.0134,.219],[.0137,.196],[.0131,.172],[.0138,.147],[.0135,.109],[.0143,.286],[.0146,.257],[.0149,.231],[.0144,.207],[.0147,.181],[.0141,.156],[.0148,.124],[.0153,.273],
[.0156,.246],[.0159,.219],[.0154,.192],[.0157,.163],[.0151,.137],[.0163,.297],[.0166,.262],[.0169,.235],[.0164,.207],[.0167,.176],[.0161,.146],[.0168,.101],[.0173,.281],[.0176,.249],
[.0179,.222],[.0174,.191],[.0177,.158],[.0184,.269],[.0187,.238],[.0182,.206],[.0185,.172],[.0189,.129],[.0193,.289],[.0196,.253],[.0191,.221],[.0194,.186],[.0198,.141],[.0172,.068],
[.0158,.082],[.0145,.059],[.0132,.041],[.0119,.027],[.0101,.046],[.0088,.032],[.0076,.021],[.0063,.034],[.0181,.047],[.0195,.074],
[.0072,.087],[.0109,.064],[.0113,.031],[.0107,-.058],[.0139,-.068],[.0140,-.129],[.0131,-.110],[.0160,-.107],[.0159,-.080],[.0171,-.087],[.0178,-.051],[.0190,-.056],[.0193,-.063],
[.0191,-.077],[.0198,-.083],[.0187,-.151],[.0181,.004],[.0194,-.005],[.0199,.004],[.0156,-.030],[.0163,-.006],[.0131,-.001],[.0124,-.016],[.0109,-.015],[.0127,-.008],[.0062,-.055],
[.0083,-.059],[.0080,-.072],[.0070,-.117],[.0054,.012],[.0068,.005],[.0091,.011],[.0098,-.021]
];
const finoFar = [
[.0237,.451],[.0287,.462],[.0300,.466],[.0315,.477],[.0324,.473],[.0370,.455],[.0378,.458],[.0254,.412],[.0243,.406],[.0262,.408],[.0220,.396],[.0228,.395],[.0251,.394],[.0218,.382],
[.0267,.381],[.0274,.382],[.0270,.375],[.0280,.374],[.0224,.369],[.0231,.370],[.0247,.371],[.0312,.371],[.0319,.359],[.0357,.346],[.0386,.348],[.0375,.316],[.0393,.315],[.0408,.310],
[.0342,.308],[.0310,.311],[.0324,.298],[.0310,.300],[.0291,.291],[.0303,.287],[.0330,.281],[.0313,.280],[.0421,.288],[.0489,.279],[.0480,.265],[.0388,.264],[.0375,.254],[.0342,.256],
[.0320,.256],[.0296,.258],[.0307,.258],[.0282,.253],[.0355,.235],[.0379,.233],[.0373,.231],[.0439,.246],[.0431,.240],[.0497,.213],[.0473,.187],[.0465,.166],[.0415,.172],[.0417,.166],
[.0405,.167],[.0357,.207],[.0408,.207],[.0338,.185],[.0330,.194],[.0322,.197],[.0303,.185],[.0332,.167],[.0416,.159],[.0243,.306],[.0252,.306],[.0226,.344],[.0232,.344],[.0250,.344],
[.0262,.353],[.0267,.353],[.0265,.325],[.0274,.325],[.0253,.282],[.0243,.262],[.0242,.251],[.0236,.245],[.0252,.237],[.0258,.232],[.0268,.227],[.0273,.227],[.0281,.190],[.0306,.215],
[.0405,.178],[.0343,.317],
[.0306,.145],[.0293,.131],[.0319,.109],[.0332,.114],[.0350,.122],[.0351,.113],[.0360,.105],[.0364,.114],[.0366,.107],[.0372,.109],[.0374,.095],[.0380,.083],[.0387,.130],[.0392,.112],
[.0396,.115],[.0408,.106],[.0413,.112],[.0425,.106],[.0429,.113],[.0436,.094],[.0426,.091],[.0438,.079],[.0448,.102],[.0467,.084],[.0490,.122],[.0330,.082],[.0336,.055],[.0341,.056],
[.0343,.037],[.0350,.032],[.0360,.052],[.0364,.050],[.0366,.046],[.0364,.021],[.0378,.038],[.0413,.035],[.0419,.020],[.0434,.037],[.0395,.007],[.0441,.009],[.0463,.015],[.0465,.004],
[.0477,.045],[.0381,-.020],[.0361,-.027],[.0361,-.034],[.0414,-.037],[.0450,-.017],[.0453,-.071],[.0410,-.075],[.0405,-.091],[.0396,-.106],[.0367,-.090],[.0343,-.093],[.0471,-.093],
[.0494,-.059],[.0455,-.137],[.0317,-.168],[.0288,-.156],[.0296,-.138],[.0294,-.111],[.0299,-.087],[.0293,-.082],[.0292,-.073],[.0317,-.015],[.0315,.025],[.0308,.020],[.0318,.045],
[.0297,.043],[.0291,.056],[.0281,.034],[.0283,.037],[.0276,.051],[.0288,.091],[.0267,-.018],[.0266,-.026],[.0272,-.042],[.0264,-.057],[.0249,-.057],[.0243,-.025],[.0241,-.033],
[.0242,-.046],[.0236,-.014],[.0230,-.023],[.0228,-.011],[.0231,-.003],[.0237,-.003],[.0226,-.057],[.0227,-.073],[.0222,-.082],[.0215,-.103],[.0230,-.160],[.0217,-.182],[.0232,-.186],
[.0253,-.186],[.0204,-.147]
];

function fromCols(cols) {
    const pts = [];
    cols.forEach(function (c) {
        c[1].forEach(function (y) { pts.push([c[0], y]); });
    });
    return pts;
}

function binSeries(name, means, color) {
    // one flat segment per stability bin
    return means.map(function (m, i) {
        return {
            name: name,
            type: 'line',
            z: 6,
            symbol: 'none',
            silent: true,
            lineStyle: { color: color, width: 3 },
            itemStyle: { color: color },
            data: [[binEdges[i], m], [binEdges[i + 1], m]]
        };
    });
}

function edgeSeries() {
    // thin grey verticals at the inner bin edges
    const yMin = yTicks[0], yMax = yTicks[yTicks.length - 1];
    return binEdges.slice(1, -1).map(function (e) {
        return {
            name: 'bin edge',
            type: 'line',
            z: 4,
            symbol: 'none',
            silent: true,
            lineStyle: { color: '#8a8a8a', width: 1 },
            data: [[e, yMin], [e, yMax]]
        };
    });
}

function cloud(name, data, size, color, z) {
    return {
        name: name, type: 'scatter', z: z, symbolSize: size, silent: true,
        itemStyle: { color: color, opacity: 1 }, data: data
    };
}

const chart = echarts.init(document.getElementById('chart'));

const option = {
    backgroundColor: '#fff',
    animation: false,
    textStyle: { fontFamily: 'DejaVu Sans' },
    grid: {
        left: 75, right: 16, top: 20, bottom: 60,
        show: true, borderColor: '#222', borderWidth: 1
    },
    legend: {
        data: [{ name: 'Oil platforms', icon: 'rect' }, { name: 'FINO3', icon: 'rect' }],
        orient: 'vertical',
        left: 84, top: 29,
        itemWidth: 36, itemHeight: 3, itemGap: 8,
        padding: [6, 9, 6, 6],
        borderColor: '#d0d0d0', borderWidth: 1, borderRadius: 4,
        backgroundColor: 'rgba(255,255,255,0.85)',
        textStyle: { fontSize: 16, color: '#000', fontFamily: 'DejaVu Sans', padding: [0, 0, 0, 6], lineHeight: 18 }
    },
    xAxis: {
        type: 'value',
        min: -0.06, max: 0.05,
        name: 'Stability parameter 1/L',
        nameLocation: 'middle',
        nameGap: 28,
        nameTextStyle: { fontSize: 16, color: '#000', fontFamily: 'DejaVu Sans' },
        splitLine: { show: false },
        axisLine: { onZero: false, lineStyle: { color: '#222' } },
        axisTick: { length: 5, lineStyle: { color: '#222' }, customValues: xTicks },
        axisLabel: {
            customValues: xTicks,
            fontSize: 15, color: '#000', margin: 7,
            formatter: function (v) { return v.toFixed(2); }
        }
    },
    yAxis: {
        type: 'value',
        min: -0.2, max: 0.5,
        name: 'Wind shear coefficient',
        nameLocation: 'middle',
        nameGap: 46,
        nameTextStyle: { fontSize: 16, color: '#000', fontFamily: 'DejaVu Sans' },
        splitLine: { show: false },
        axisLine: { show: true, onZero: false, lineStyle: { color: '#222' } },
        axisTick: { show: true, length: 5, lineStyle: { color: '#222' }, customValues: yTicks },
        axisLabel: {
            customValues: yTicks,
            fontSize: 15, color: '#000', margin: 7,
            formatter: function (v) { return v.toFixed(1); }
        }
    },
    series: [
        cloud('Oil samples', oilLeft.concat(oilBand, oilCentre, oilRight, oilFar), 6, '#ffc0cb', 1),
        cloud('Oil dense', fromCols(oilDenseCols), 8, '#ffc0cb', 1),
        cloud('FINO3 samples', finoLeft.concat(finoCentre, finoRight, finoFar), 6, '#b0c4de', 2),
        cloud('FINO3 dense', fromCols(finoDenseCols), 9.5, '#b0c4de', 2)
    ].concat(
        edgeSeries(),
        binSeries('Oil platforms', oilMeans, '#cd5c5c'),
        binSeries('FINO3', finoMeans, '#4682b4')
    )
};

chart.setOption(option);
</script>
</body>
</html>
